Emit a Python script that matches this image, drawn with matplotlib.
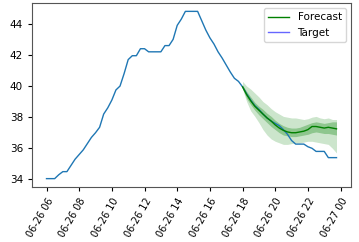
import numpy as np
import pandas as pd
import matplotlib
matplotlib.use("Agg")
import matplotlib.pyplot as plt
import matplotlib.dates as mdates
from matplotlib.lines import Line2D

# target series, 15 min steps from 06-26 06:00
target_start = "2021-06-26 06:00"
target = [34.05, 34.05, 34.05, 34.3, 34.5, 34.5, 34.9, 35.3, 35.6, 35.9,
          36.3, 36.7, 37.0, 37.35, 38.2, 38.6, 39.1, 39.75, 40.0, 40.8,
          41.7, 41.95, 41.95, 42.4, 42.4, 42.2, 42.2, 42.2, 42.2, 42.6,
          42.6, 43.0, 43.9, 44.3, 44.8, 44.8, 44.8, 44.8, 44.2, 43.6,
          43.1, 42.7, 42.2, 41.8, 41.35, 40.9, 40.5, 40.3, 39.95,
          39.5, 39.1, 38.75, 38.5, 38.2, 37.95, 37.75, 37.6, 37.45, 37.2,
          36.9, 36.5, 36.27, 36.27, 36.27, 36.1, 36.0, 35.8, 35.8, 35.8,
          35.4, 35.4, 35.4]

# forecast, 15 min steps from 06-26 18:00
forecast_start = "2021-06-26 18:00"
median = [39.95, 39.45, 39.05, 38.7, 38.45, 38.2, 37.95, 37.75, 37.5, 37.3,
          37.15, 37.05, 37.0, 37.0, 37.05, 37.1, 37.2, 37.4, 37.4, 37.35,
          37.3, 37.35, 37.3, 37.25]
hi50 = [40.05, 39.65, 39.3, 38.95, 38.7, 38.5, 38.25, 38.05, 37.8, 37.6,
        37.45, 37.35, 37.3, 37.3, 37.35, 37.45, 37.55, 37.65, 37.7, 37.65,
        37.6, 37.65, 37.7, 37.7]
lo50 = [39.85, 39.2, 38.8, 38.45, 38.15, 37.9, 37.65, 37.4, 37.2, 37.0,
        36.85, 36.8, 36.75, 36.75, 36.8, 36.85, 36.9, 37.0, 37.05, 37.0,
        36.95, 36.95, 36.9, 36.85]
hi90 = [40.3, 40.0, 39.8, 39.55, 39.3, 39.0, 38.8, 38.55, 38.35, 38.2,
        38.05, 38.0, 37.95, 37.95, 37.9, 37.85, 37.9, 38.0, 38.05, 37.95,
        37.9, 37.95, 37.85, 37.85]
lo90 = [39.8, 39.0, 38.4, 38.05, 37.65, 37.2, 36.85, 36.6, 36.45, 36.35,
        36.25, 36.25, 36.3, 36.35, 36.35, 36.4, 36.45, 36.45, 36.4, 36.35,
        36.3, 36.25, 36.0, 35.7]

t_idx = pd.date_range(target_start, periods=len(target), freq="15min")
f_idx = pd.date_range(forecast_start, periods=len(median), freq="15min")

fig = plt.figure(figsize=(3.59, 2.42), dpi=100)
ax = fig.add_axes([32 / 359, 1 - 187 / 242, (351 - 32) / 359, (187 - 3) / 242])

ax.plot(t_idx, target, color="tab:blue", lw=1.0)
ax.fill_between(f_idx, lo90, hi90, color="green", alpha=0.2, lw=0)
ax.fill_between(f_idx, lo50, hi50, color="green", alpha=0.3, lw=0)
ax.plot(f_idx, median, color="green", lw=1.0)

ax.xaxis.set_major_locator(mdates.HourLocator(byhour=range(0, 24, 2)))
ax.xaxis.set_major_formatter(mdates.DateFormatter("%m-%d %H"))
ax.tick_params(length=3)
ax.tick_params(axis="y", labelsize=7.5)
ax.tick_params(axis="x", labelsize=7)
plt.setp(ax.get_xticklabels(), rotation=60, ha="right", rotation_mode="anchor")
for s in ax.spines.values():
    s.set_color("#555555")

handles = [Line2D([], [], color="green", lw=1.0),
           Line2D([], [], color="blue", alpha=0.6, lw=1.0)]
ax.legend(handles, ["Forecast", "Target"], loc="upper right", fontsize=7.5)

fig.savefig("out.png", dpi=100)
